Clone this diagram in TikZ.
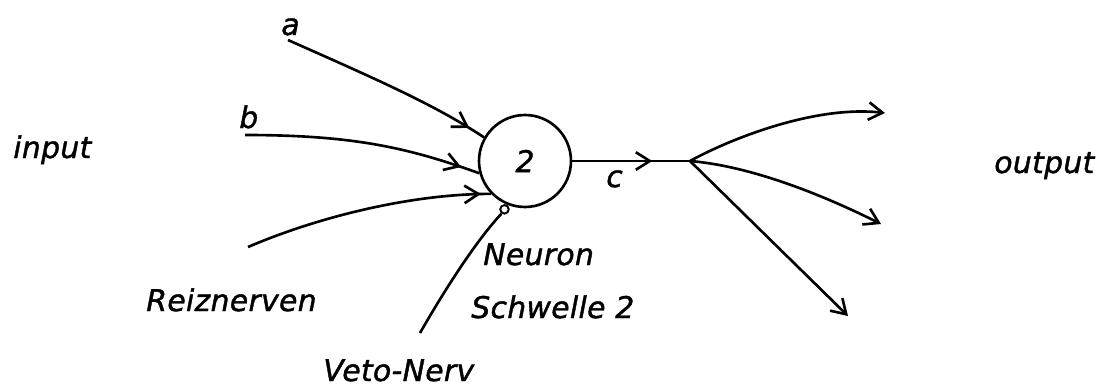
\documentclass[tikz,border=0pt]{standalone}
\usepackage{fontspec}
\setmainfont{DejaVu Sans}[LetterSpace=1, FakeBold=1.3]
\usetikzlibrary{arrows.meta,decorations.markings}

\tikzset{
  neuron/.style={circle, draw, minimum size=1.84cm, inner sep=0pt},
  hemmung/.style={circle, draw, line width=1.1pt, fill=white, minimum size=0.17cm, inner sep=0pt},
  lbl/.style={anchor=base west, inner sep=0pt},
  pfeil/.style={postaction={decorate}, decoration={markings, mark=at position #1 with {\arrow{>}}}}
}

\begin{document}
\begin{tikzpicture}[x=0.02cm, y=-0.02cm, line width=1.5pt, >={Straight Barb[length=8pt,width=10pt]}, font=\fontsize{17}{19}\selectfont\itshape]
\useasboundingbox (0,0) rectangle (1106,389);
% neuron with veto synapse
\node[neuron] (n) at (525,161) {2};
\node[hemmung, anchor=67] (veto) at (n.247) {};
% free ends
\coordinate (ea) at (288,40);
\coordinate (eb) at (245,135);
\coordinate (er) at (248,247);
\coordinate (ev) at (420,333);
\coordinate (gabel) at (690,161);
\coordinate (o1) at (885,113);
\coordinate (o2) at (881,224);
\coordinate (o3) at (848,316);
% inputs
\draw[pfeil=0.92] (ea) .. controls +(90,40) and +(-50,-33) .. (n.150);
\draw[pfeil=0.92] (eb) .. controls +(110,0) and +(-70,-25) .. (n.195);
\draw[pfeil=0.96] (er) .. controls +(70,-30) and +(-80,0) .. (n.224);
\draw (veto.235) .. controls +(-28,30) and +(20,-35) .. (ev);
% output
\draw[pfeil=0.68] (n.east) -- (gabel);
\draw[->] (gabel) .. controls +(40,-22) and +(-70,-8) .. (o1);
\draw[->] (gabel) .. controls +(60,5) and +(-60,-30) .. (o2);
\draw[->] (gabel) -- (o3);
% labels
\node[lbl] (la) at (280,35) {a};
\node[lbl] (lb) at (238,128) {b};
\node[lbl] (lc) at (605,187) {c};
\node[lbl] (lin) at (12,158) {input};
\node[lbl] (lout) at (993,173) {output};
\node[lbl] (lneu) at (482,265) {Neuron};
\node[lbl] (lschw) at (470,318) {Schwelle 2};
\node[lbl] (lreiz) at (145,311) {Reiznerven};
\node[lbl] (lveto) at (322,381) {Veto-Nerv};
\end{tikzpicture}
\end{document}
